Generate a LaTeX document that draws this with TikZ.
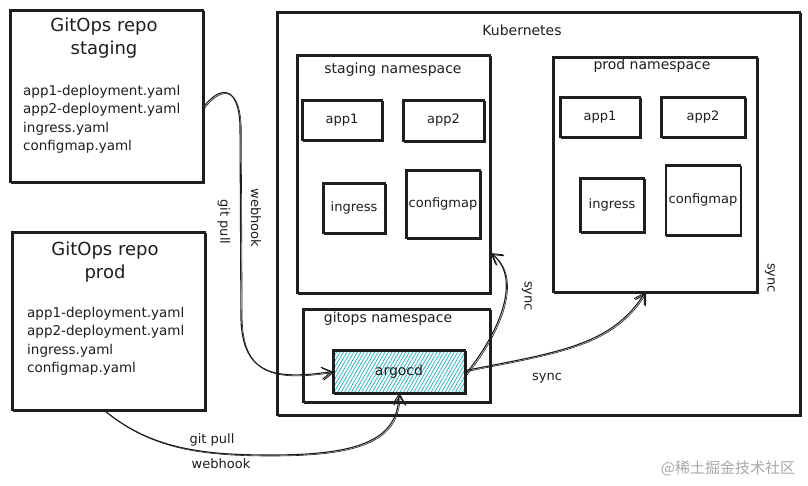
\documentclass[tikz,border=0pt]{standalone}
\usepackage{fontspec}
\setmainfont{DejaVu Sans}
\newfontfamily\cjkfont{Noto Sans CJK SC}
\usetikzlibrary{arrows.meta,patterns.meta}
\definecolor{inkc}{HTML}{1E1E1E}
\definecolor{hatch}{HTML}{2AAFC2}
\definecolor{wm}{HTML}{A8A8A8}
\tikzset{
  sk/.style={draw=inkc, line width=1.1pt,
    postaction={draw=inkc, line width=0.6pt, transform canvas={shift={(1.2pt,-1pt)}}}},
  box/.style={sk, rectangle, inner sep=0pt},
  lbl/.style={font=\fontsize{14}{16}\selectfont, text=inkc, inner sep=0pt},
  smalllbl/.style={font=\fontsize{13}{15}\selectfont, text=inkc, inner sep=0pt},
  ttl/.style={font=\fontsize{18}{23}\selectfont, text=inkc, align=center, inner sep=0pt},
  files/.style={font=\fontsize{13.5}{18.5}\selectfont, text=inkc, align=left, inner sep=0pt, anchor=north west},
  conn/.style={sk, -{Straight Barb[length=10pt,width=12pt,line width=1pt]}},
}
\begin{document}
\begin{tikzpicture}[x=1pt,y=-1pt]
\useasboundingbox (0,0) rectangle (808,485);
\fill[white] (0,0) rectangle (808,485);

% Git repos
\node[box, minimum width=193pt, minimum height=172pt] (srepo) at (106.5,96) {};
\node[ttl] (stitle) at (104,38) {GitOps repo\\staging};
\node[files] (sfiles) at (23,85) {app1-deployment.yaml\\app2-deployment.yaml\\ingress.yaml\\configmap.yaml};

\node[box, minimum width=193pt, minimum height=178pt] (prepo) at (108.5,321) {};
\node[ttl] (ptitle) at (105,262) {GitOps repo\\prod};
\node[files] (pfiles) at (27,307) {app1-deployment.yaml\\app2-deployment.yaml\\ingress.yaml\\configmap.yaml};

% Kubernetes
\node[box, minimum width=523pt, minimum height=403pt] (k8s) at (538.5,213.5) {};
\node[lbl] (k8slbl) at (522,30) {Kubernetes};

% staging namespace
\node[box, minimum width=193pt, minimum height=238pt] (sns) at (393.5,174) {};
\node[lbl] (snslbl) at (393,70) {staging namespace};
\node[box, minimum width=80pt, minimum height=40pt] (sapp1) at (342,120) {};
\node[smalllbl] at (sapp1) {app1};
\node[box, minimum width=81pt, minimum height=41pt] (sapp2) at (443.5,120.5) {};
\node[smalllbl] at (sapp2) {app2};
\node[box, minimum width=62pt, minimum height=50pt] (sing) at (354,208) {};
\node[smalllbl] at (sing) {ingress};
\node[box, minimum width=74pt, minimum height=68pt] (scfg) at (443,204) {};
\node[smalllbl] at (scfg) {configmap};

% prod namespace
\node[box, minimum width=204pt, minimum height=235pt] (pns) at (655,174.5) {};
\node[lbl] (pnslbl) at (652,66) {prod namespace};
\node[box, minimum width=80pt, minimum height=40pt] (papp1) at (600,117) {};
\node[smalllbl] at (papp1) {app1};
\node[box, minimum width=84pt, minimum height=40pt] (papp2) at (703,117) {};
\node[smalllbl] at (papp2) {app2};
\node[box, minimum width=64pt, minimum height=54pt] (ping) at (612,205) {};
\node[smalllbl] at (ping) {ingress};
\node[box, minimum width=75pt, minimum height=70pt] (pcfg) at (703,200) {};
\node[smalllbl] at (pcfg) {configmap};

% gitops namespace
\node[box, minimum width=187pt, minimum height=93pt] (gns) at (396.5,355.5) {};
\node[lbl] (gnslbl) at (388,319) {gitops namespace};
\node[box, minimum width=132pt, minimum height=43pt,
      pattern={Lines[angle=60,distance=3pt,line width=0.75pt]}, pattern color=hatch] (argo) at (399,371.5) {};
\node[lbl] at (argo) {argocd};

% connectors
\draw[conn] ([yshift=-11pt]srepo.east) .. controls (218,88) and (238,82) .. (240,125)
  -- (241,320) .. controls (243,375) and (275,380) .. (argo.west);
\draw[conn] ([xshift=-4pt]prepo.south) .. controls (150,448) and (200,455) .. (270,455)
  .. controls (360,455) and (398,440) .. (argo.south);
\draw[conn] ([yshift=-3pt]argo.east) .. controls (505,325) and (520,275) .. ([yshift=-79pt]sns.east);
\draw[conn] ([yshift=1pt]argo.east) .. controls (560,352) and (612,345) .. ([xshift=-10pt]pns.south);

% connector labels
\node[smalllbl, rotate=-90] at (224,222) {git pull};
\node[smalllbl, rotate=-90] at (256,218) {webhook};
\node[smalllbl] at (212,440) {git pull};
\node[smalllbl] at (221,464) {webhook};
\node[smalllbl, rotate=-90] at (527,296) {sync};
\node[smalllbl] at (547,378) {sync};
\node[smalllbl, rotate=-90] at (770,278) {sync};

% watermark
\node[font=\cjkfont\fontsize{15}{17}\selectfont, text=wm, inner sep=0pt] at (728,468) {@稀土掘金技术社区};
\end{tikzpicture}
\end{document}
